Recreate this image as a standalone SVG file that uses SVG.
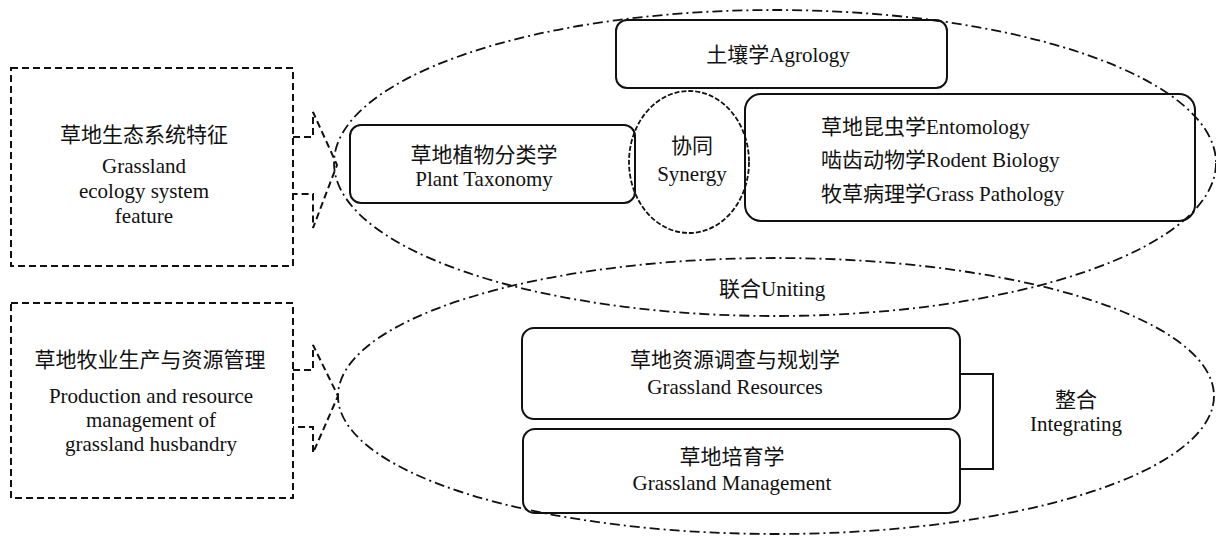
<svg xmlns="http://www.w3.org/2000/svg" width="1216" height="539" viewBox="0 0 1216 539">
<style>
.t{font-family:"Liberation Serif","Times New Roman","Noto Sans CJK SC",serif;font-size:21px;fill:#111}
.c{text-anchor:middle}
.box{fill:none;stroke:#111;stroke-width:2}
.dbox{fill:none;stroke:#111;stroke-width:2;stroke-dasharray:7 4}
.dd{fill:none;stroke:#111;stroke-width:1.8;stroke-dasharray:10 4 2 4}
.syn{fill:none;stroke:#111;stroke-width:1.8;stroke-dasharray:5 2}
</style>
<rect width="1216" height="539" fill="#fff"/>
<g id="ellipses">
<ellipse class="dd" cx="775" cy="163" rx="441" ry="153"/>
<ellipse class="dd" cx="776" cy="396" rx="438" ry="138"/>
</g>
<g id="node-ecology">
<rect class="dbox" x="11" y="68" width="282" height="198"/>
<text class="t c" x="144" y="142">草地生态系统特征</text>
<text class="t c" x="144" y="173">Grassland</text>
<text class="t c" x="144" y="198">ecology system</text>
<text class="t c" x="144" y="223">feature</text>
</g>
<g id="node-production">
<rect class="dbox" x="11" y="303" width="282" height="195"/>
<text class="t c" x="150" y="367">草地牧业生产与资源管理</text>
<text class="t c" x="151" y="403">Production and resource</text>
<text class="t c" x="151" y="427">management of</text>
<text class="t c" x="151" y="451">grassland husbandry</text>
</g>
<g id="node-agrology">
<rect class="box" x="616" y="20" width="331" height="68" rx="11"/>
<text class="t c" x="778" y="62">土壤学Agrology</text>
</g>
<g id="node-taxonomy">
<rect class="box" x="350" y="125" width="285" height="78" rx="11"/>
<text class="t c" x="484" y="162">草地植物分类学</text>
<text class="t c" x="484" y="186">Plant Taxonomy</text>
</g>
<g id="node-synergy">
<ellipse class="syn" cx="689" cy="162" rx="60" ry="71"/>
<text class="t c" x="692" y="153">协同</text>
<text class="t c" x="692" y="181">Synergy</text>
</g>
<g id="node-entomology">
<rect class="box" x="745" y="94" width="450" height="127" rx="16"/>
<text class="t" x="821" y="134">草地昆虫学Entomology</text>
<text class="t" x="821" y="167">啮齿动物学Rodent Biology</text>
<text class="t" x="821" y="201">牧草病理学Grass Pathology</text>
</g>
<g id="node-uniting">
<text class="t" x="719" y="296">联合Uniting</text>
</g>
<g id="node-resources">
<rect class="box" x="522" y="328" width="438" height="91" rx="12"/>
<text class="t c" x="735" y="367">草地资源调查与规划学</text>
<text class="t c" x="735" y="394">Grassland Resources</text>
</g>
<g id="node-management">
<rect class="box" x="523" y="429" width="437" height="84" rx="12"/>
<text class="t c" x="732" y="464">草地培育学</text>
<text class="t c" x="732" y="490">Grassland Management</text>
</g>
<g id="node-integrating">
<text class="t c" x="1076" y="407">整合</text>
<text class="t c" x="1076" y="431">Integrating</text>
</g>
<g id="connectors">
<polyline class="dbox" points="293,137 313,137 313,112 337,165 313,228 313,194 293,194"/>
<polyline class="dbox" points="293,370 313,370 313,345 338,396 313,453 313,427 293,427"/>
<polyline class="box" points="960,374 993,374 993,469 960,469"/>
</g>
</svg>
